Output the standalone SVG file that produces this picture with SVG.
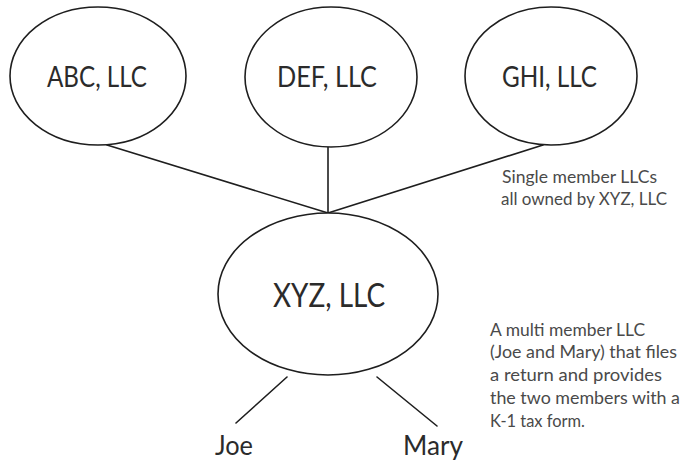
<svg xmlns="http://www.w3.org/2000/svg" width="682" height="460" viewBox="0 0 682 460">
  <style>
    .node { fill: #ffffff; stroke: #1e1e1e; stroke-width: 1.6; }
    .link { stroke: #1e1e1e; stroke-width: 1.6; fill: none; stroke-linecap: round; }
    .label { font-family: Lato, "Liberation Sans", sans-serif; fill: #2b2b2b; }
    .big { font-size: 28px; }
    .xl { font-size: 32px; }
    .person { font-size: 26px; }
    .note { font-family: Lato, "Liberation Sans", sans-serif; font-size: 16.5px; fill: #4a4a4a; }
  </style>
  <rect width="682" height="460" fill="#ffffff"/>

  <!-- ownership connectors -->
  <g id="connectors">
    <line class="link" x1="107" y1="145" x2="328" y2="213"/>
    <line class="link" x1="328" y1="147" x2="328" y2="213"/>
    <line class="link" x1="543" y1="145" x2="328" y2="213"/>
    <line class="link" x1="287" y1="377" x2="236" y2="423"/>
    <line class="link" x1="377" y1="377" x2="437" y2="426"/>
  </g>

  <g id="abc">
    <ellipse class="node" cx="98" cy="76" rx="88" ry="69"/>
    <text class="label big" x="47" y="87" textLength="100" lengthAdjust="spacingAndGlyphs">ABC, LLC</text>
  </g>
  <g id="def">
    <ellipse class="node" cx="331" cy="77" rx="86" ry="70"/>
    <text class="label big" x="277" y="87" textLength="100" lengthAdjust="spacingAndGlyphs">DEF, LLC</text>
  </g>
  <g id="ghi">
    <ellipse class="node" cx="551" cy="76" rx="86" ry="69"/>
    <text class="label big" x="502" y="87" textLength="95" lengthAdjust="spacingAndGlyphs">GHI, LLC</text>
  </g>
  <g id="xyz">
    <ellipse class="node" cx="328" cy="294" rx="110" ry="81"/>
    <text class="label xl" x="273" y="307" textLength="112" lengthAdjust="spacingAndGlyphs">XYZ, LLC</text>
  </g>
  <g id="joe">
    <text class="label person" x="215" y="455" textLength="38" lengthAdjust="spacingAndGlyphs">Joe</text>
  </g>
  <g id="mary">
    <text class="label person" x="403" y="455" textLength="60" lengthAdjust="spacingAndGlyphs">Mary</text>
  </g>

  <!-- side notes -->
  <g id="note-single">
    <text class="note" x="502" y="183" textLength="155" lengthAdjust="spacingAndGlyphs">Single member LLCs</text>
    <text class="note" x="501" y="205" textLength="166" lengthAdjust="spacingAndGlyphs">all owned by XYZ, LLC</text>
  </g>
  <g id="note-multi">
    <text class="note" x="490" y="336" textLength="155" lengthAdjust="spacingAndGlyphs">A multi member LLC</text>
    <text class="note" x="490" y="358" textLength="187" lengthAdjust="spacingAndGlyphs">(Joe and Mary) that files</text>
    <text class="note" x="490" y="381" textLength="172" lengthAdjust="spacingAndGlyphs">a return and provides</text>
    <text class="note" x="490" y="404" textLength="190" lengthAdjust="spacingAndGlyphs">the two members with a</text>
    <text class="note" x="490" y="427" textLength="95" lengthAdjust="spacingAndGlyphs">K-1 tax form.</text>
  </g>
</svg>
